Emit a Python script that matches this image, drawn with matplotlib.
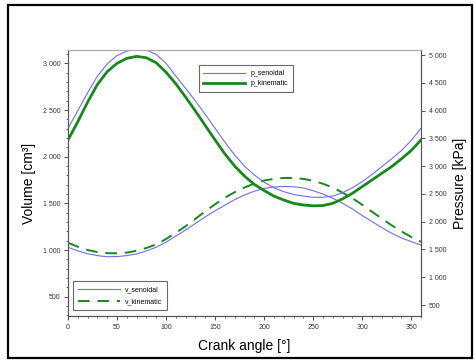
import matplotlib.pyplot as plt
from matplotlib.ticker import FuncFormatter, MultipleLocator
from matplotlib.patches import Rectangle

plt.rcParams['font.family'] = ['Liberation Sans', 'DejaVu Sans']

# crank angle samples [deg]
angle = [0, 10, 20, 30, 40, 50, 60, 70, 80, 90, 100, 110, 120, 130, 140, 150, 160, 170, 180,
         190, 200, 210, 220, 230, 240, 250, 260, 270, 280, 290, 300, 310, 320, 330, 340, 350, 360]

# pressure [kPa]
p_senoidal = [3680, 4000, 4320, 4620, 4840, 4990, 5070, 5100, 5090, 5010, 4850, 4620, 4400,
              4170, 3930, 3680, 3430, 3200, 3000, 2840, 2710, 2610, 2540, 2490, 2460, 2440,
              2440, 2460, 2520, 2610, 2720, 2850, 2990, 3130, 3280, 3460, 3680]
p_kinematic = [3470, 3800, 4150, 4470, 4700, 4850, 4940, 4975, 4950, 4860, 4690, 4480, 4240,
               3990, 3730, 3470, 3220, 3000, 2820, 2670, 2560, 2460, 2390, 2330, 2300, 2285,
               2290, 2330, 2410, 2510, 2630, 2750, 2870, 2990, 3130, 3280, 3470]

# volume [cm3]
v_senoidal = [1030, 990, 960, 940, 928, 930, 940, 958, 990, 1030, 1085, 1150, 1215,
              1285, 1355, 1420, 1480, 1540, 1590, 1630, 1660, 1675, 1680, 1678, 1665, 1635,
              1600, 1555, 1500, 1440, 1370, 1305, 1240, 1180, 1130, 1090, 1053]
v_kinematic = [1077, 1035, 1000, 978, 966, 965, 972, 992, 1022, 1060, 1118, 1185, 1255,
               1335, 1415, 1490, 1560, 1620, 1670, 1712, 1745, 1762, 1772, 1772, 1762, 1742,
               1710, 1670, 1615, 1555, 1485, 1410, 1338, 1265, 1200, 1140, 1088]

blue = '#6f6cf0'
green = '#15891a'
tick_col = '#333333'

def thousands(x, pos):
    return '{:,.0f}'.format(x).replace(',', ' ')

fig = plt.figure(figsize=(4.74, 3.62), dpi=100)
fig.patches.append(Rectangle((8 / 474, 4 / 362), 464 / 474, 353 / 362,
                             transform=fig.transFigure, fill=False,
                             edgecolor='black', linewidth=1.6))

ax = fig.add_axes([68 / 474, 46 / 362, 353 / 474, 266 / 362])
ax2 = ax.twinx()

# volume on the left axis
l1, = ax.plot(angle, v_senoidal, color=blue, lw=0.8, label='v_senoidal')
l2, = ax.plot(angle, v_kinematic, color=green, lw=1.4, ls=(0, (6, 4)), label='v_kinematic')

# pressure on the right axis
l3, = ax2.plot(angle, p_senoidal, color=blue, lw=0.8, label='p_senoidal')
l4, = ax2.plot(angle, p_kinematic, color=green, lw=2.0, label='p_kinematic')

ax.set_xlim(0, 360)
ax.set_ylim(293, 3143)
ax2.set_ylim(302, 5090)

ax.xaxis.set_major_locator(MultipleLocator(50))
ax.xaxis.set_minor_locator(MultipleLocator(10))
ax.yaxis.set_major_locator(MultipleLocator(500))
ax.yaxis.set_minor_locator(MultipleLocator(100))
ax2.yaxis.set_major_locator(MultipleLocator(500))
ax.yaxis.set_major_formatter(FuncFormatter(thousands))
ax2.yaxis.set_major_formatter(FuncFormatter(thousands))

for a in (ax, ax2):
    a.tick_params(which='major', direction='out', length=3, width=0.6,
                  labelsize=5, colors=tick_col, pad=2.5)
    a.tick_params(which='minor', direction='out', length=1.5, width=0.5, colors=tick_col)
    for s in a.spines.values():
        s.set_linewidth(0.8)
        s.set_color('#555555')
    a.spines['top'].set_color('#aaaaaa')

ax.set_xlabel('Crank angle [°]', fontsize=10, labelpad=6)
ax.set_ylabel('Volume [cm³]', fontsize=10, labelpad=5)
ax2.set_ylabel('Pressure [kPa]', fontsize=10, labelpad=5)

leg1 = ax2.legend(handles=[l3, l4], loc='upper left', bbox_to_anchor=(0.36, 0.955),
                  fontsize=5, fancybox=False, edgecolor='#444444', handlelength=6,
                  borderpad=0.7, labelspacing=0.45)
leg1.get_frame().set_linewidth(0.8)
leg2 = ax.legend(handles=[l1, l2], loc='lower left', bbox_to_anchor=(0.005, 0.01),
                 fontsize=5, fancybox=False, edgecolor='#444444', handlelength=6,
                 borderpad=0.7, labelspacing=0.7)
leg2.get_frame().set_linewidth(0.8)

fig.savefig('out.png', dpi=100)
